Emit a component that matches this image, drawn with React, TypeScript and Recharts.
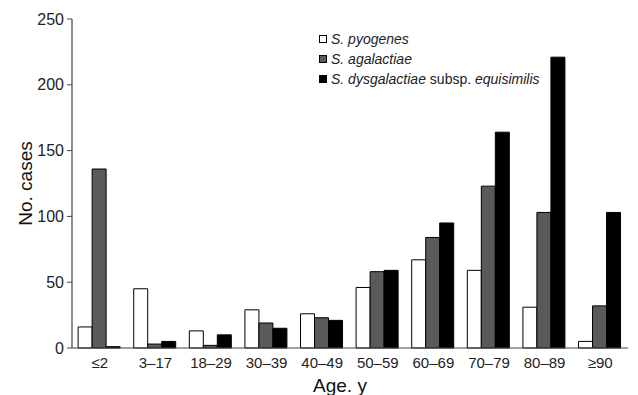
import React from "react";
import { BarChart, Bar, XAxis, YAxis, Label } from "recharts";

const categories = ["≤2", "3–17", "18–29", "30–39", "40–49", "50–59", "60–69", "70–79", "80–89", "≥90"];
const pyogenes = [16, 45, 13, 29, 26, 46, 67, 59, 31, 5];
const agalactiae = [136, 3, 2, 19, 23, 58, 84, 123, 103, 32];
const dysgalactiae = [1, 5, 10, 15, 21, 59, 95, 164, 221, 103];
const yTicks = [0, 50, 100, 150, 200, 250];

const data = categories.map((c, i) => ({
  cat: c,
  pyo: pyogenes[i],
  aga: agalactiae[i],
  dys: dysgalactiae[i],
}));

const FONT = "'Liberation Sans', Arial, sans-serif";

const legendItems = [
  { fill: "#ffffff", parts: [{ t: "S. pyogenes", i: true }] },
  { fill: "#5a5a5a", parts: [{ t: "S. agalactiae", i: true }] },
  {
    fill: "#000000",
    parts: [
      { t: "S. dysgalactiae ", i: true },
      { t: "subsp. ", i: false },
      { t: "equisimilis", i: true },
    ],
  },
];

const LegendBox = () => (
  <div
    style={{
      position: "absolute",
      left: 319,
      top: 29,
      fontFamily: FONT,
      fontSize: 14,
      color: "#222",
      whiteSpace: "nowrap",
    }}
  >
    {legendItems.map((it, k) => (
      <div key={k} style={{ display: "flex", alignItems: "center", height: 20 }}>
        <span
          style={{
            display: "inline-block",
            width: 6,
            height: 6,
            background: it.fill,
            border: "1px solid #000",
            marginRight: 4,
          }}
        />
        <span>
          {it.parts.map((p, j) => (
            <span key={j} style={{ fontStyle: p.i ? "italic" : "normal" }}>
              {p.t}
            </span>
          ))}
        </span>
      </div>
    ))}
  </div>
);

const XTitle = (props: any) => {
  const vb = props.viewBox || {};
  return (
    <text
      x={vb.x + vb.width / 2 - 10}
      y={vb.y + 44}
      textAnchor="middle"
      fontSize={19}
      fontFamily={FONT}
      fill="#111"
    >
      Age. y
    </text>
  );
};

const YTitle = (props: any) => {
  const vb = props.viewBox || {};
  const cx = 25;
  const cy = vb.y + vb.height / 2;
  return (
    <text
      x={cx}
      y={cy}
      transform={`rotate(-90, ${cx}, ${cy})`}
      textAnchor="middle"
      dominantBaseline="central"
      fontSize={19}
      fontFamily={FONT}
      fill="#111"
    >
      No. cases
    </text>
  );
};

export default function App() {
  return (
    <div style={{ position: "absolute", left: 0, top: 0, width: 638, height: 395, background: "#fff" }}>
      <BarChart
        width={638}
        height={395}
        data={data}
        margin={{ top: 19, right: 10, bottom: 0, left: 0 }}
        barCategoryGap="11%"
        barGap={0}
      >
        <XAxis
          dataKey="cat"
          height={47}
          tickLine={false}
          axisLine={{ stroke: "#444", strokeWidth: 1.2 }}
          tick={{ fill: "#222", fontSize: 15, fontFamily: FONT }}
          tickMargin={3}
          interval={0}
        >
          <Label content={<XTitle />} />
        </XAxis>
        <YAxis
          width={72}
          domain={[0, 250]}
          ticks={yTicks}
          interval={0}
          tickSize={5}
          tickMargin={3}
          axisLine={{ stroke: "#444", strokeWidth: 1.2 }}
          tickLine={{ stroke: "#444" }}
          tick={{ fill: "#222", fontSize: 16, fontFamily: FONT }}
        >
          <Label content={<YTitle />} />
        </YAxis>
        <Bar dataKey="pyo" fill="#ffffff" stroke="#000" strokeWidth={1} isAnimationActive={false} />
        <Bar dataKey="aga" fill="#5a5a5a" stroke="#000" strokeWidth={1} isAnimationActive={false} />
        <Bar dataKey="dys" fill="#000000" stroke="#000" strokeWidth={1} isAnimationActive={false} />
      </BarChart>
      <LegendBox />
    </div>
  );
}
